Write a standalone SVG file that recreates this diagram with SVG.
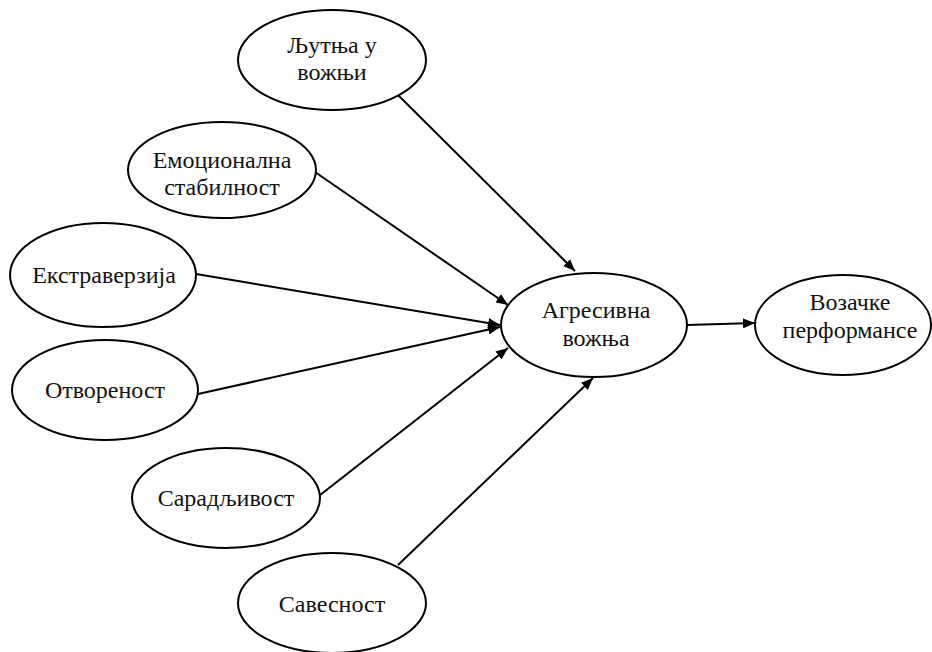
<svg xmlns="http://www.w3.org/2000/svg" width="932" height="652" viewBox="0 0 932 652">
  <defs>
    <marker id="arrow" markerWidth="12" markerHeight="10" refX="12" refY="5" orient="auto" markerUnits="userSpaceOnUse">
      <path d="M0,0 L12,5 L0,10 Z" fill="#000"/>
    </marker>
    <style>
      .node ellipse { fill: #fff; stroke: #000; stroke-width: 2; }
      .node text { font-family: "Liberation Serif", "Times New Roman", "DejaVu Serif", serif; font-size: 24px; fill: #111; text-anchor: middle; }
      .edges line { stroke: #000; stroke-width: 2; marker-end: url(#arrow); }
    </style>
  </defs>
  <rect width="932" height="652" fill="#fff"/>

  <g class="edges">
    <line x1="398" y1="95" x2="575" y2="271"/>
    <line x1="315" y1="172" x2="508" y2="305"/>
    <line x1="196" y1="274" x2="500" y2="325"/>
    <line x1="198" y1="394" x2="500" y2="327"/>
    <line x1="315" y1="499" x2="508" y2="348"/>
    <line x1="398" y1="565" x2="593" y2="378"/>
    <line x1="687" y1="325" x2="755" y2="323"/>
  </g>

  <g id="node-ljutnja" class="node">
    <ellipse cx="332" cy="60" rx="94" ry="50"/>
    <text x="332" y="53">Љутња у</text>
    <text x="332" y="80">вожњи</text>
  </g>
  <g id="node-emocionalna" class="node">
    <ellipse cx="222" cy="170" rx="94" ry="48"/>
    <text x="222" y="168">Емоционална</text>
    <text x="222" y="195">стабилност</text>
  </g>
  <g id="node-ekstraverzija" class="node">
    <ellipse cx="103" cy="275" rx="93" ry="52"/>
    <text x="104" y="283">Екстраверзија</text>
  </g>
  <g id="node-otvorenost" class="node">
    <ellipse cx="105" cy="390" rx="93" ry="50"/>
    <text x="105" y="398">Отвореност</text>
  </g>
  <g id="node-saradljivost" class="node">
    <ellipse cx="226" cy="498" rx="94" ry="50"/>
    <text x="226" y="506">Сарадљивост</text>
  </g>
  <g id="node-savesnost" class="node">
    <ellipse cx="332" cy="603" rx="94" ry="50"/>
    <text x="332" y="612">Савесност</text>
  </g>
  <g id="node-agresivna" class="node">
    <ellipse cx="594" cy="325" rx="93" ry="52"/>
    <text x="596" y="318">Агресивна</text>
    <text x="596" y="346">вожња</text>
  </g>
  <g id="node-vozacke" class="node">
    <ellipse cx="843" cy="325" rx="88" ry="50"/>
    <text x="850" y="310">Возачке</text>
    <text x="850" y="338">перформансе</text>
  </g>
</svg>
